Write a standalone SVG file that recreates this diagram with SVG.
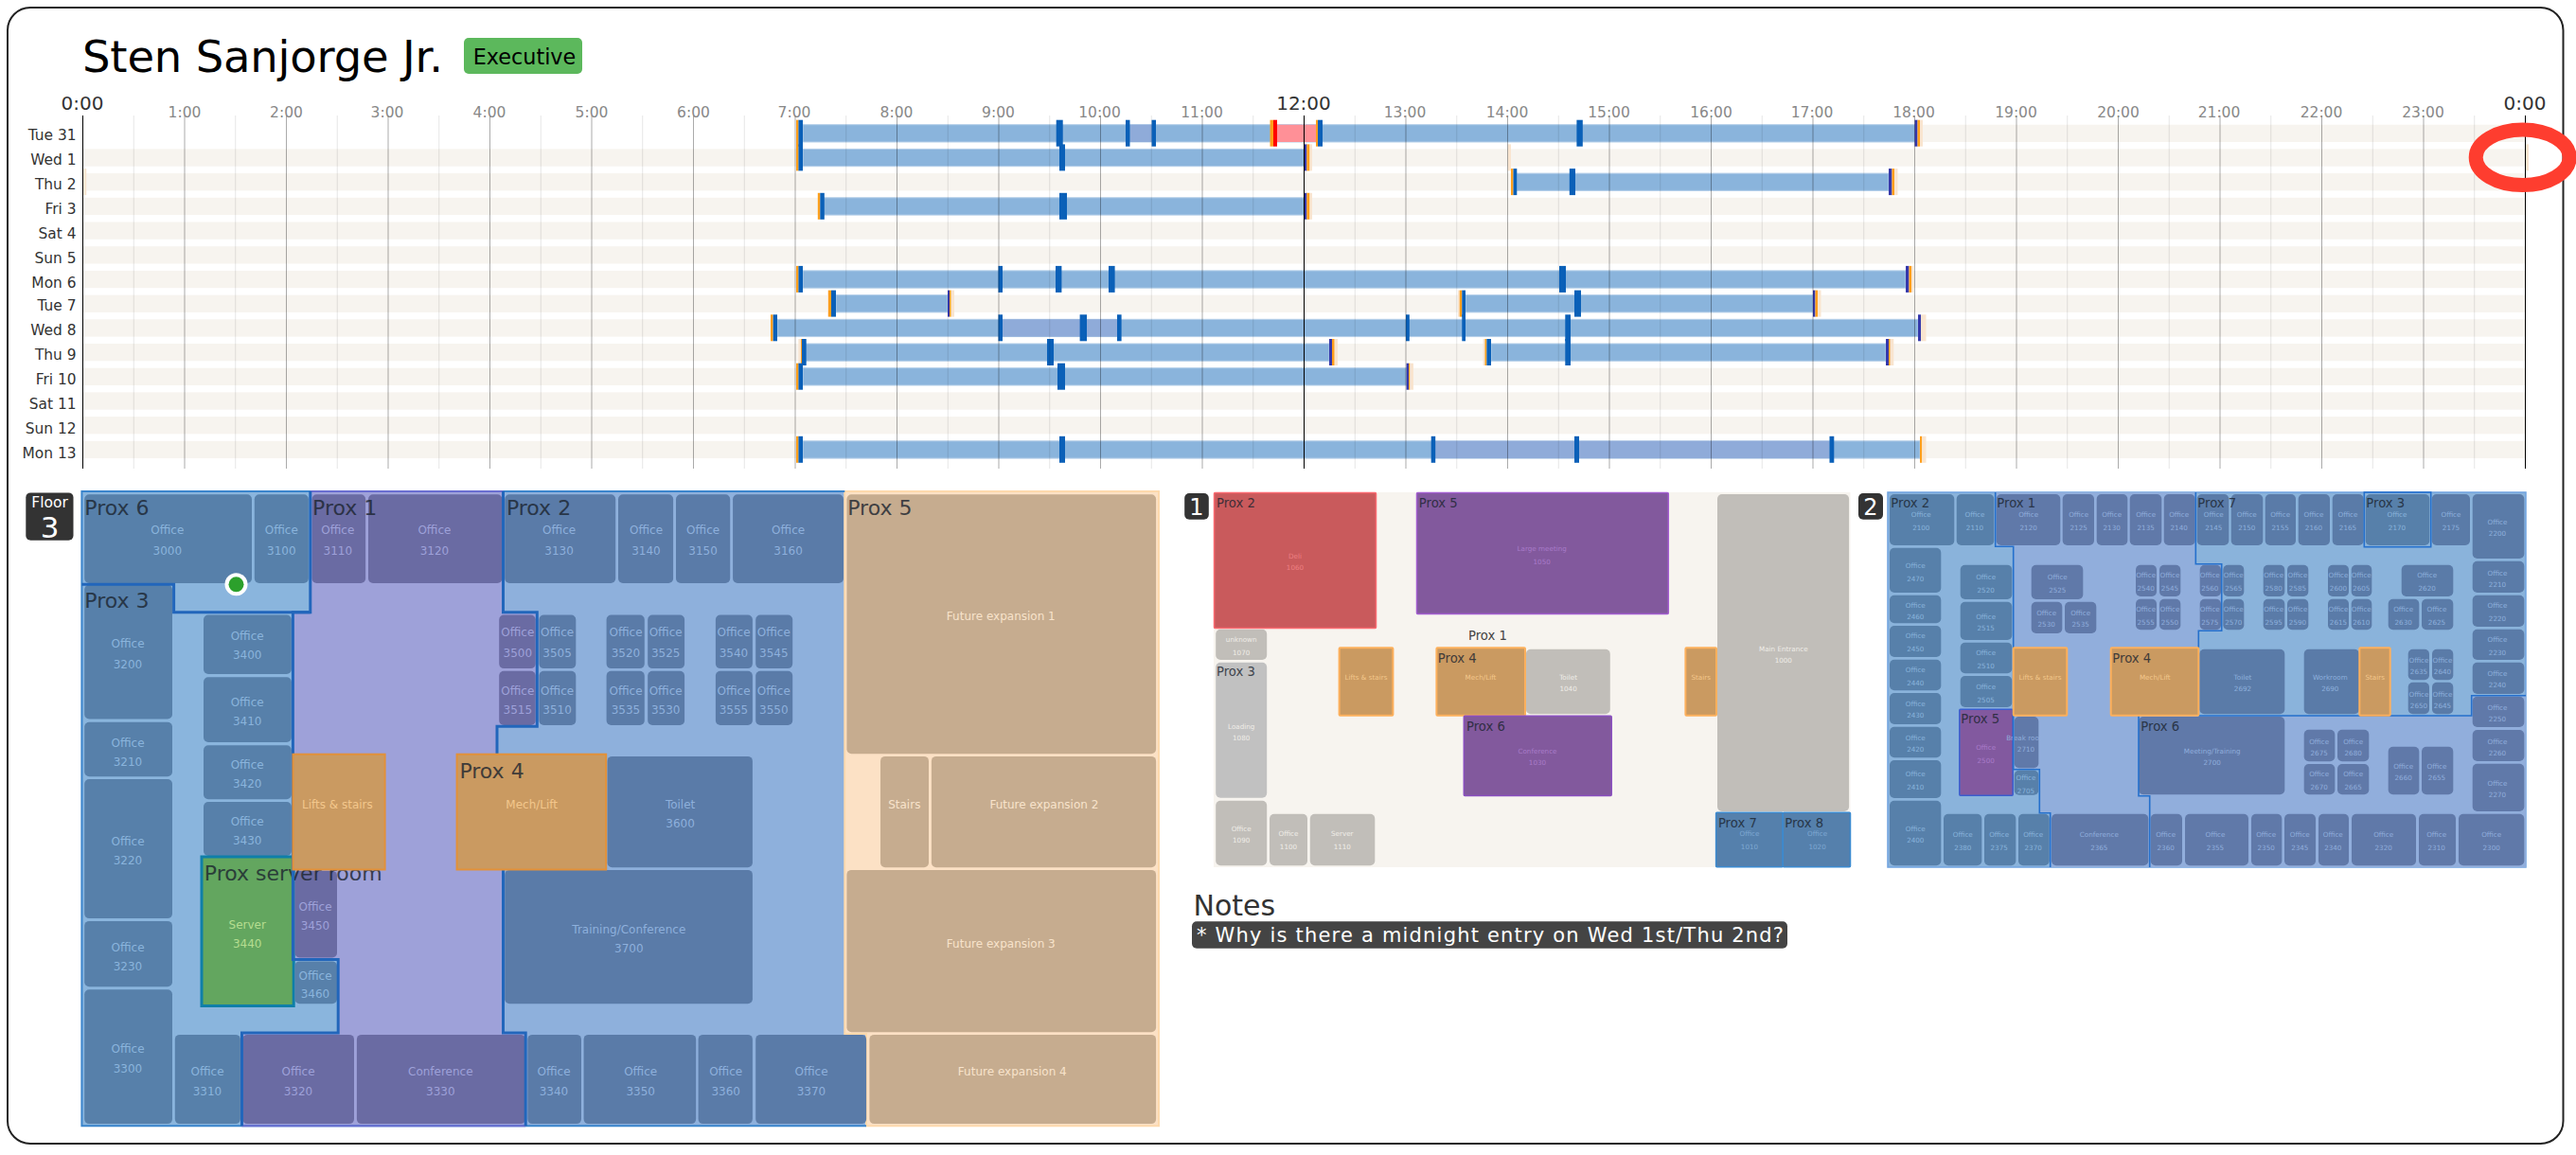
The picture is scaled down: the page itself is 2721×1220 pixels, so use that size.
<svg xmlns="http://www.w3.org/2000/svg" width="2721" height="1220" viewBox="0 0 2721 1220">
<style>
text{font-family:"DejaVu Sans","Liberation Sans",sans-serif}
.s{fill:#f7f4ef;height:18.3px}
.bar{fill:#8ab4dc;height:18.3px;stroke:#b4cfe9;stroke-width:1}
.bp{fill:#8fabd9;height:18.3px}
.br{fill:#ff9097;height:18.3px}
.b,.d,.o,.p,.r{y:-5px;height:28px}
.b{fill:#0a60b8}.d{fill:#3538ab}.o{fill:#ff9f1c}.p{fill:#f9e5d0}.r{fill:#f00}
.day{font-size:15.4px;fill:#333;text-anchor:end}
.hr{font-size:15.5px;fill:#888;text-anchor:middle}
.big{font-size:20px;fill:#333;text-anchor:middle}
.room rect,.badge{rx:5px}
.room text{text-anchor:middle}
.f3 text{font-size:12px}
.f1 text,.f2 text{font-size:7.2px}
.rb rect{fill:#5780aa}.rb text{fill:#8ab4dc}
.rp rect{fill:#6a6ba3}.rp text{fill:#9ea1d9}
.r2 rect{fill:#5a7ba8}.r2 text{fill:#8eb0dc}
.rt rect{fill:#c6ac8f}.rt text{fill:#f8e3cb}
.rg rect{fill:#c1beb9}.rg text{fill:#f0ede8}
.rq rect{fill:#6079a9}.rq text{fill:#91aedc}
.or rect{fill:#ca9a61;stroke:#e2913a;stroke-width:2;rx:0}.or text{fill:#f3c78c}
.f1 .or rect,.f2 .or rect{stroke:#fdb05c;rx:1px}
.sv rect{fill:#63a65f;stroke:#0f7fa8;stroke-width:3;rx:0}.sv text{fill:#b5dd90}
.room rect[stroke]{rx:1px}
text.px{fill:#1c2530;opacity:.8}
.f3 text.f3lab{font-size:22px}
.f1 text.smlab,.f2 text.smlab{font-size:13.2px}
.edge{fill:none;stroke:#2266bb;stroke-width:3}
.edge2{fill:none;stroke:#2570cc;stroke-width:1.6}
text.bn{fill:#fff;text-anchor:middle}
.f3 text.bn1{font-size:15.5px}
.f3 text.bn2{font-size:31px}
.f1 text.bn3,.f2 text.bn3{font-size:24px}
</style>

<rect id="frame" x="8" y="8" width="2699.5" height="1200" rx="24" fill="#fff" stroke="#222" stroke-width="2"/>

<g id="title">
<text x="87" y="75.5" font-size="46.5" fill="#000" textLength="381">Sten Sanjorge Jr.</text>
<rect class="badge" x="490" y="40" width="125" height="38" fill="#5cb85c"/>
<text x="554" y="68" font-size="22.3" text-anchor="middle" fill="#000">Executive</text>
</g>

<g id="days">
<g id="day-tue31" transform="translate(0,131.7)"><rect class="s" x="841" width="1826.5"/>
<rect class="bar" x="848" width="1175"/><rect class="bp" x="1193.5" width="23"/><rect class="br" x="1345" width="45"/>
<rect class="o" x="841" width="2.5"/><rect class="b" x="843.4" width="4.6"/><rect class="b" x="1115.7" width="7"/><rect class="b" x="1189" width="4.5"/><rect class="b" x="1216.5" width="4.5"/><rect class="o" x="1341.5" width="3.5"/><rect class="r" x="1345" width="4"/><rect class="o" x="1390" width="2"/><rect class="b" x="1392" width="5"/><rect class="b" x="1665.4" width="6.4"/><rect class="p" x="2028" width="3"/><rect class="d" x="2022.5" width="3"/><rect class="o" x="2025.5" width="2.5"/>
<text class="day" x="80.5" y="16.3">Tue 31</text></g>

<g id="day-wed1" transform="translate(0,157.4)"><rect class="s" x="87.5" width="2580"/>
<rect class="bar" x="848" width="530"/>
<rect class="o" x="841" width="2.5"/><rect class="b" x="843.4" width="4.6"/><rect class="b" x="1119" width="6"/><rect class="d" x="1377.8" width="2.6"/><rect class="o" x="1380.4" width="3.1"/><rect class="p" x="1383.5" width="2.5"/><rect class="p" x="1592.7" width="3.3"/><rect class="p" x="2667.7" width="3.3"/>
<text class="day" x="80.5" y="16.9">Wed 1</text></g>

<g id="day-thu2" transform="translate(0,183.1)"><rect class="s" x="87.5" width="2580"/>
<rect class="bar" x="1602" width="393"/>
<rect class="p" x="88.4" width="2.9"/><rect class="o" x="1596" width="2.5"/><rect class="b" x="1598.5" width="3.8"/><rect class="b" x="1657.8" width="6.2"/><rect class="d" x="1995" width="3.5"/><rect class="o" x="1998.5" width="2.5"/><rect class="p" x="2001" width="3.5"/>
<text class="day" x="80.5" y="16.9">Thu 2</text></g>

<g id="day-fri3" transform="translate(0,208.8)"><rect class="s" x="87.5" width="2580"/>
<rect class="bar" x="870" width="508"/>
<rect class="o" x="863.8" width="2.5"/><rect class="b" x="866.3" width="4.5"/><rect class="b" x="1119" width="8"/><rect class="d" x="1377.8" width="2.6"/><rect class="o" x="1380.4" width="3.1"/><rect class="p" x="1383.5" width="2.5"/>
<text class="day" x="80.5" y="17.2">Fri 3</text></g>

<g id="day-sat4" transform="translate(0,234.5)"><rect class="s" x="87.5" width="2580"/><text class="day" x="80.5" y="17.5">Sat 4</text></g>
<g id="day-sun5" transform="translate(0,260.2)"><rect class="s" x="87.5" width="2580"/><text class="day" x="80.5" y="17.8">Sun 5</text></g>

<g id="day-mon6" transform="translate(0,285.9)"><rect class="s" x="87.5" width="2580"/>
<rect class="bar" x="848" width="1165"/>
<rect class="o" x="841" width="2.5"/><rect class="b" x="843.4" width="4.6"/><rect class="b" x="1054.5" width="4.5"/><rect class="b" x="1115" width="6.4"/><rect class="b" x="1171" width="6.6"/><rect class="b" x="1647" width="7"/><rect class="d" x="2013" width="3.5"/><rect class="o" x="2016.5" width="2.5"/><rect class="p" x="2019" width="2.3"/>
<text class="day" x="80.5" y="18.1">Mon 6</text></g>

<g id="day-tue7" transform="translate(0,311.6)"><rect class="s" x="87.5" width="2580"/>
<rect class="bar" x="883" width="118"/><rect class="bar" x="1548" width="367"/>
<rect class="p" x="874" width="1"/><rect class="o" x="875" width="3"/><rect class="b" x="878" width="5"/><rect class="d" x="1001" width="2"/><rect class="o" x="1003" width="1.7"/><rect class="p" x="1004.7" width="3.3"/><rect class="p" x="1540" width="1.7"/><rect class="o" x="1541.7" width="2.6"/><rect class="b" x="1544.3" width="3.7"/><rect class="b" x="1663" width="7"/><rect class="d" x="1915" width="2.5"/><rect class="o" x="1917.5" width="2.5"/><rect class="p" x="1920" width="3.5"/>
<text class="day" x="80.5" y="16.4">Tue 7</text></g>

<g id="day-wed8" transform="translate(0,337.3)"><rect class="s" x="87.5" width="2580"/>
<rect class="bar" x="821" width="1205"/><rect class="bp" x="1059" width="121"/>
<rect class="o" x="814" width="2.6"/><rect class="b" x="816.6" width="4.4"/><rect class="b" x="1054.5" width="4.5"/><rect class="b" x="1140.6" width="7.4"/><rect class="b" x="1180" width="4.6"/><rect class="b" x="1485" width="3.8"/><rect class="b" x="1544.3" width="3.7"/><rect class="b" x="1653.3" width="5.7"/><rect class="p" x="2029" width="5.5"/><rect class="d" x="2026" width="3"/>
<text class="day" x="80.5" y="16.7">Wed 8</text></g>

<g id="day-thu9" transform="translate(0,363)"><rect class="s" x="87.5" width="2580"/>
<rect class="bar" x="851" width="553"/><rect class="bar" x="1575" width="417"/>
<rect class="p" x="843.4" width="2.6"/><rect class="o" x="846" width="1.2"/><rect class="b" x="847" width="4.7"/><rect class="b" x="1106" width="7"/><rect class="b" x="1653.3" width="5.7"/><rect class="d" x="1404" width="3"/><rect class="o" x="1407" width="2.7"/><rect class="p" x="1409.7" width="3.3"/><rect class="p" x="1566.6" width="1.9"/><rect class="o" x="1568.5" width="1.9"/><rect class="b" x="1570.4" width="4.6"/><rect class="d" x="1992" width="3"/><rect class="o" x="1995" width="1.7"/><rect class="p" x="1996.7" width="3.6"/>
<text class="day" x="80.5" y="17">Thu 9</text></g>

<g id="day-fri10" transform="translate(0,388.7)"><rect class="s" x="87.5" width="2580"/>
<rect class="bar" x="848" width="637.6"/>
<rect class="o" x="841" width="2.5"/><rect class="b" x="843.4" width="4.6"/><rect class="b" x="1117" width="8"/><rect class="d" x="1485.6" width="2.4"/><rect class="o" x="1488" width="1.4"/><rect class="p" x="1489.4" width="3.6"/>
<text class="day" x="80.5" y="17.3">Fri 10</text></g>

<g id="day-sat11" transform="translate(0,414.4)"><rect class="s" x="87.5" width="2580"/><text class="day" x="80.5" y="17.6">Sat 11</text></g>
<g id="day-sun12" transform="translate(0,440.1)"><rect class="s" x="87.5" width="2580"/><text class="day" x="80.5" y="17.9">Sun 12</text></g>

<g id="day-mon13" transform="translate(0,465.8)"><rect class="s" x="87.5" width="2580"/>
<rect class="bar" x="848" width="1180"/><rect class="bp" x="1516" width="416.5"/>
<rect class="o" x="841" width="2.5"/><rect class="b" x="843.4" width="4.6"/><rect class="b" x="1119" width="6"/><rect class="b" x="1511.7" width="4.5"/><rect class="b" x="1663" width="5"/><rect class="b" x="1932.5" width="4.8"/><rect class="o" x="2028" width="2.3"/><rect class="p" x="2030.3" width="4.2"/>
<text class="day" x="80.5" y="18.2">Mon 13</text></g>
</g>

<g id="grid" fill="none">
<path stroke="#000" stroke-opacity=".1" d="M141.25,122V495M248.75,122V495M356.25,122V495M463.75,122V495M571.25,122V495M678.75,122V495M786.25,122V495M893.75,122V495M1001.25,122V495M1108.75,122V495M1216.25,122V495M1323.75,122V495M1431.25,122V495M1538.75,122V495M1646.25,122V495M1753.75,122V495M1861.25,122V495M1968.75,122V495M2076.25,122V495M2183.75,122V495M2291.25,122V495M2398.75,122V495M2506.25,122V495M2613.75,122V495"/>
<path stroke="#000" stroke-opacity=".33" d="M195,122V495M302.5,122V495M410,122V495M517.5,122V495M625,122V495M732.5,122V495M840,122V495M947.5,122V495M1055,122V495M1162.5,122V495M1270,122V495M1485,122V495M1592.5,122V495M1700,122V495M1807.5,122V495M1915,122V495M2022.5,122V495M2130,122V495M2237.5,122V495M2345,122V495M2452.5,122V495M2560,122V495"/>
<path stroke="#000" d="M87.5,122V495M1377.5,122V495M2667.5,122V495"/>
</g>

<g id="hours">
<text class="big" x="87" y="116">0:00</text><text class="big" x="1377" y="116">12:00</text><text class="big" x="2667" y="116">0:00</text>
<text class="hr" x="195" y="124">1:00</text><text class="hr" x="302.5" y="124">2:00</text><text class="hr" x="409" y="124">3:00</text><text class="hr" x="517" y="124">4:00</text><text class="hr" x="625" y="124">5:00</text><text class="hr" x="732.5" y="124">6:00</text><text class="hr" x="839" y="124">7:00</text><text class="hr" x="947" y="124">8:00</text><text class="hr" x="1054.5" y="124">9:00</text><text class="hr" x="1161.5" y="124">10:00</text><text class="hr" x="1269.5" y="124">11:00</text><text class="hr" x="1484" y="124">13:00</text><text class="hr" x="1592" y="124">14:00</text><text class="hr" x="1699.5" y="124">15:00</text><text class="hr" x="1807.5" y="124">16:00</text><text class="hr" x="1914" y="124">17:00</text><text class="hr" x="2021.5" y="124">18:00</text><text class="hr" x="2129.5" y="124">19:00</text><text class="hr" x="2237.5" y="124">20:00</text><text class="hr" x="2344" y="124">21:00</text><text class="hr" x="2452" y="124">22:00</text><text class="hr" x="2559.5" y="124">23:00</text>
</g>

<ellipse id="midnight-ring" cx="2664.7" cy="166.3" rx="49.5" ry="29.3" fill="none" stroke="#fe3d2f" stroke-width="15"/>

<g id="floor3" class="f3">
<rect class="badge" x="27.3" y="520.4" width="50.2" height="50.3" fill="#333"/>
<text class="bn bn1" x="52.5" y="535.8">Floor</text>
<text class="bn bn2" x="52.5" y="568">3</text>

<g id="f3-zones">
<path id="f3-prox3-6" d="M86.4,519H327.8V646.8H309.4V1013.6H357.2V1091H255.5V1189.3H86.4Z" fill="#8ab5dd"/>
<path id="f3-prox2" d="M531.5,519H892.3V1092H915V1189.3H555.2V1091H531.5V919L525,796V767.2H567.3V646.8H531.5Z" fill="#8eb0dc"/>
<path id="f3-prox1" d="M327.8,519H531.5V646.8H567.3V767.2H525V796L531.5,919V1091H555.2V1189.3H255.5V1091H357.2V1013.6H309.4V646.8H327.8Z" fill="#9ea1d9"/>
<path id="f3-prox5" d="M892.3,519H1224V1189.3H915V1092H892.3Z" fill="#fce1c5" stroke="#fdd9ad" stroke-width="2"/>
<path d="M915,1189.3H86.4V519H892.3" fill="none" stroke="#3b85cc" stroke-width="2"/>
<path d="M327.8,519H531.5M255.5,1189.3H555.2" fill="none" stroke="#6a6ed0" stroke-width="2"/>
</g>

<g class="room rb" id="r3000"><rect x="89.2" y="522.2" width="176.8" height="93.8"/><text x="176.8" y="564.3">Office</text><text x="176.8" y="586">3000</text></g>
<g class="room rb" id="r3100"><rect x="268.8" y="522.2" width="57.1" height="93.8"/><text x="297.3" y="564.3">Office</text><text x="297.3" y="586">3100</text></g>
<g class="room rp" id="r3110"><rect x="329.5" y="522.2" width="56.6" height="93.8"/><text x="356.8" y="564.3">Office</text><text x="356.8" y="586">3110</text></g>
<g class="room rp" id="r3120"><rect x="389" y="522.2" width="141.4" height="93.8"/><text x="458.9" y="564.3">Office</text><text x="458.9" y="586">3120</text></g>
<g class="room r2" id="r3130"><rect x="533.2" y="522.2" width="117" height="93.8"/><text x="590.6" y="564.3">Office</text><text x="590.6" y="586">3130</text></g>
<g class="room r2" id="r3140"><rect x="653" y="522.2" width="58.1" height="93.8"/><text x="682.5" y="564.3">Office</text><text x="682.5" y="586">3140</text></g>
<g class="room r2" id="r3150"><rect x="714" y="522.2" width="57.2" height="93.8"/><text x="742.6" y="564.3">Office</text><text x="742.6" y="586">3150</text></g>
<g class="room r2" id="r3160"><rect x="774.1" y="522.2" width="116.9" height="93.8"/><text x="832.6" y="564.3">Office</text><text x="832.6" y="586">3160</text></g>
<g class="room rb" id="r3200"><rect x="89.2" y="617.8" width="92.8" height="141.7"/><text x="135" y="684.4">Office</text><text x="135" y="706.1">3200</text></g>
<g class="room rb" id="r3210"><rect x="89.2" y="762.7" width="92.8" height="57.5"/><text x="135" y="788.5">Office</text><text x="135" y="808.5">3210</text></g>
<g class="room rb" id="r3220"><rect x="89.2" y="823" width="92.8" height="147.1"/><text x="135" y="892.7">Office</text><text x="135" y="912.6">3220</text></g>
<g class="room rb" id="r3230"><rect x="89.2" y="972.9" width="92.8" height="69.3"/><text x="135" y="1004.6">Office</text><text x="135" y="1024.5">3230</text></g>
<g class="room rb" id="r3300"><rect x="89.2" y="1045.3" width="92.8" height="141.8"/><text x="135" y="1112.4">Office</text><text x="135" y="1132.7">3300</text></g>
<g class="room rb" id="r3310"><rect x="184.8" y="1092.9" width="69.1" height="94.2"/><text x="219" y="1136.4">Office</text><text x="219" y="1156.7">3310</text></g>
<g class="room rp" id="r3320"><rect x="256.3" y="1092.9" width="117.7" height="94.2"/><text x="315" y="1136.4">Office</text><text x="315" y="1156.7">3320</text></g>
<g class="room rp" id="r3330"><rect x="376.9" y="1092.9" width="178" height="94.2"/><text x="465.3" y="1136.4">Conference</text><text x="465.3" y="1156.7">3330</text></g>
<g class="room r2" id="r3340"><rect x="557.3" y="1092.9" width="56.7" height="94.2"/><text x="585" y="1136.4">Office</text><text x="585" y="1156.7">3340</text></g>
<g class="room r2" id="r3350"><rect x="616.6" y="1092.9" width="118.6" height="94.2"/><text x="676.7" y="1136.4">Office</text><text x="676.7" y="1156.7">3350</text></g>
<g class="room r2" id="r3360"><rect x="737.6" y="1092.9" width="57.3" height="94.2"/><text x="766.7" y="1136.4">Office</text><text x="766.7" y="1156.7">3360</text></g>
<g class="room r2" id="r3370"><rect x="798.2" y="1092.9" width="116.9" height="94.2"/><text x="857" y="1136.4">Office</text><text x="857" y="1156.7">3370</text></g>
<g class="room rb" id="r3400"><rect x="215" y="649.5" width="92.8" height="62.5"/><text x="261.2" y="676.2">Office</text><text x="261.2" y="696.1">3400</text></g>
<g class="room rb" id="r3410"><rect x="215" y="715.2" width="92.8" height="68.8"/><text x="261.2" y="746">Office</text><text x="261.2" y="765.9">3410</text></g>
<g class="room rb" id="r3420"><rect x="215" y="787.2" width="92.8" height="57"/><text x="261.2" y="812">Office</text><text x="261.2" y="832">3420</text></g>
<g class="room rb" id="r3430"><rect x="215" y="847" width="92.8" height="57"/><text x="261.2" y="872.3">Office</text><text x="261.2" y="892.2">3430</text></g>
<g class="room sv" id="r3440"><rect x="213" y="905" width="97.2" height="157.5"/><text x="261.2" y="980.6">Server</text><text x="261.2" y="1000.5">3440</text></g>
<g class="room rp" id="r3450"><rect x="311.4" y="919.9" width="44.6" height="91.5"/><text x="333" y="962.4">Office</text><text x="333" y="982.4">3450</text></g>
<g class="room rb" id="r3460"><rect x="311.4" y="1015.4" width="44.6" height="44.9"/><text x="333" y="1034.5">Office</text><text x="333" y="1054.4">3460</text></g>
<text class="px f3lab" x="215.8" y="930.3">Prox server room</text>
<g class="room rp" id="r3500"><rect x="527.2" y="649.5" width="38.5" height="56.6"/><text x="546.8" y="672.1">Office</text><text x="546.8" y="694.3">3500</text></g>
<g class="room r2" id="r3505"><rect x="569.4" y="649.5" width="38.9" height="56.6"/><text x="588.6" y="672.1">Office</text><text x="588.6" y="694.3">3505</text></g>
<g class="room rp" id="r3515"><rect x="527.2" y="708.8" width="38.5" height="57.1"/><text x="546.8" y="734.2">Office</text><text x="546.8" y="754.1">3515</text></g>
<g class="room r2" id="r3510"><rect x="569.4" y="708.8" width="38.9" height="57.1"/><text x="588.6" y="734.2">Office</text><text x="588.6" y="754.1">3510</text></g>
<g class="room r2" id="r3520"><rect x="640.6" y="649.5" width="40.2" height="56.6"/><text x="661" y="672.1">Office</text><text x="661" y="694.3">3520</text></g>
<g class="room r2" id="r3525"><rect x="684.2" y="649.5" width="38.9" height="56.6"/><text x="703.2" y="672.1">Office</text><text x="703.2" y="694.3">3525</text></g>
<g class="room r2" id="r3535"><rect x="640.6" y="708.8" width="40.2" height="57.1"/><text x="661" y="734.2">Office</text><text x="661" y="754.1">3535</text></g>
<g class="room r2" id="r3530"><rect x="684.2" y="708.8" width="38.9" height="57.1"/><text x="703.2" y="734.2">Office</text><text x="703.2" y="754.1">3530</text></g>
<g class="room r2" id="r3540"><rect x="755.9" y="649.5" width="39" height="56.6"/><text x="775" y="672.1">Office</text><text x="775" y="694.3">3540</text></g>
<g class="room r2" id="r3545"><rect x="798.2" y="649.5" width="39" height="56.6"/><text x="817.3" y="672.1">Office</text><text x="817.3" y="694.3">3545</text></g>
<g class="room r2" id="r3555"><rect x="755.9" y="708.8" width="39" height="57.1"/><text x="775" y="734.2">Office</text><text x="775" y="754.1">3555</text></g>
<g class="room r2" id="r3550"><rect x="798.2" y="708.8" width="39" height="57.1"/><text x="817.3" y="734.2">Office</text><text x="817.3" y="754.1">3550</text></g>
<g class="room r2" id="r3600"><rect x="641.5" y="798.9" width="153.4" height="117.3"/><text x="718.6" y="854.2">Toilet</text><text x="718.6" y="874.1">3600</text></g>
<g class="room r2" id="r3700"><rect x="533.2" y="918.9" width="261.7" height="141.4"/><text x="664.3" y="986.4">Training/Conference</text><text x="664.3" y="1006.4">3700</text></g>
<g class="room rt" id="fe1"><rect x="894.4" y="522.2" width="326.7" height="274"/><text x="1057.3" y="654.5">Future expansion 1</text></g>
<g class="room rt" id="stairs3"><rect x="930" y="798.9" width="51" height="117.3"/><text x="955.3" y="854.2">Stairs</text></g>
<g class="room rt" id="fe2"><rect x="983.9" y="798.9" width="237.2" height="117.3"/><text x="1102.9" y="854.2">Future expansion 2</text></g>
<g class="room rt" id="fe3"><rect x="894.4" y="918.9" width="326.7" height="171.3"/><text x="1057.3" y="1000.5">Future expansion 3</text></g>
<g class="room rt" id="fe4"><rect x="918.4" y="1092.9" width="302.7" height="94.2"/><text x="1069.3" y="1136.4">Future expansion 4</text></g>

<g id="f3-edges">
<path class="edge" d="M327.8,519V646.8H183.6V617.3H86.4"/>
<path class="edge" d="M327.8,646.8H309.4V1013.6H357.2V1091H255.5V1189.3"/>
<path class="edge" d="M531.5,519V646.8H567.3V767.2H525V796M531.5,919V1091H555.2V1189.3"/>
</g>
<g class="room or" id="lifts3"><rect x="309.4" y="796.7" width="97.2" height="121.8"/><text x="356.4" y="854.2">Lifts &amp; stairs</text></g>
<g class="room or" id="mech3"><rect x="482.6" y="796.7" width="157.6" height="121.8"/><text x="561.7" y="854.2">Mech/Lift</text></g>
<g id="f3-labels">
<text class="px f3lab" x="89.3" y="544">Prox 6</text>
<text class="px f3lab" x="330" y="544">Prox 1</text>
<text class="px f3lab" x="534.9" y="544">Prox 2</text>
<text class="px f3lab" x="89.3" y="641.8">Prox 3</text>
<text class="px f3lab" x="895.2" y="544">Prox 5</text>
<text class="px f3lab" x="485.4" y="821.6">Prox 4</text>
</g>
<g id="reader"><circle cx="249.5" cy="617.3" r="12" fill="#fff"/><circle cx="249.5" cy="617.3" r="8" fill="#2ca02c"/></g>
</g>

<g id="floor1" class="f1">
<rect class="badge" x="1251.2" y="521" width="25.6" height="27.7" fill="#333"/>
<text class="bn bn3" x="1264" y="544.3">1</text>
<rect id="f1-bg" x="1281.9" y="520" width="672.6" height="396" fill="#f7f4ef"/>
<g class="room" id="r1060"><rect x="1282.5" y="520.5" width="171" height="143" fill="#c95a5c" stroke="#fb6a70" stroke-width="1.5"/><text x="1368" y="590" fill="#ec7f82">Deli</text><text x="1368" y="602" fill="#ec7f82">1060</text></g>
<g class="room" id="r1050"><rect x="1496.5" y="520.5" width="265.8" height="128" fill="#82599d" stroke="#a35ed0" stroke-width="1.5"/><text x="1628.7" y="581.7" fill="#a97bc9">Large meeting</text><text x="1628.7" y="595.7" fill="#a97bc9">1050</text></g>
<g class="room rg" id="r1070"><rect x="1284.2" y="664.7" width="54" height="32.3"/><text x="1311.2" y="677.7">unknown</text><text x="1311.2" y="691.7">1070</text></g>
<g class="room rg" id="r1080"><rect x="1284.2" y="699.7" width="54" height="143" style="fill:#c1c1c1"/><text x="1311.2" y="769.7">Loading</text><text x="1311.2" y="781.7">1080</text></g>
<g class="room rg" id="r1090"><rect x="1284.2" y="845.7" width="54" height="68.6"/><text x="1311.2" y="877.7">Office</text><text x="1311.2" y="889.7">1090</text></g>
<g class="room rg" id="r1100"><rect x="1341" y="859.7" width="40" height="54.6"/><text x="1361" y="883.3">Office</text><text x="1361" y="897.3">1100</text></g>
<g class="room rg" id="r1110"><rect x="1383.8" y="859.7" width="68.5" height="54.6"/><text x="1417.8" y="883.3">Server</text><text x="1417.8" y="897.3">1110</text></g>
<g class="room or" id="lifts1"><rect x="1414.6" y="684.3" width="56.8" height="71.4"/><text x="1443" y="717.7">Lifts &amp; stairs</text></g>
<g class="room rg" id="r1040"><rect x="1611.9" y="685.7" width="88.9" height="68.6"/><text x="1656.6" y="717.7">Toilet</text><text x="1656.6" y="729.7">1040</text></g>
<g class="room or" id="mech1"><rect x="1517.4" y="684.3" width="93.6" height="71.4"/><text x="1564" y="717.7">Mech/Lift</text></g>
<g class="room or" id="stairs1"><rect x="1780.4" y="684.3" width="32.6" height="71.4"/><text x="1796.7" y="717.7">Stairs</text></g>
<g class="room" id="r1030"><rect x="1546.3" y="756.2" width="155.9" height="84.3" fill="#82599d" stroke="#8a4fc0" stroke-width="1.5"/><text x="1624" y="795.7" fill="#a97bc9">Conference</text><text x="1624" y="807.7" fill="#a97bc9">1030</text></g>
<g class="room rg" id="r1000"><rect x="1814" y="522" width="139.1" height="335"/><text x="1883.8" y="687.7">Main Entrance</text><text x="1883.8" y="699.7">1000</text></g>
<g class="room" id="r1010"><rect x="1812.6" y="858.3" width="70.7" height="57.4" fill="#5580ac" stroke="#3b8ad0" stroke-width="1.5"/><text x="1848" y="883.3" fill="#7fa8d2">Office</text><text x="1848" y="897.3" fill="#7fa8d2">1010</text></g>
<g class="room" id="r1020"><rect x="1883.3" y="858.3" width="71.2" height="57.4" fill="#5580ac" stroke="#3b8ad0" stroke-width="1.5"/><text x="1919.6" y="883.3" fill="#7fa8d2">Office</text><text x="1919.6" y="897.3" fill="#7fa8d2">1020</text></g>
<g id="f1-labels">
<text class="px smlab" x="1285" y="536">Prox 2</text>
<text class="px smlab" x="1498.8" y="536">Prox 5</text>
<text x="1551" y="676" class="smlab" fill="#444">Prox 1</text>
<text class="px smlab" x="1285" y="714">Prox 3</text>
<text class="px smlab" x="1518.8" y="700">Prox 4</text>
<text class="px smlab" x="1549" y="772">Prox 6</text>
<text class="px smlab" x="1814.9" y="874">Prox 7</text>
<text class="px smlab" x="1885.2" y="874">Prox 8</text>
</g>
</g>

<g id="notes">
<text x="1260.5" y="967.3" font-size="30" fill="#333">Notes</text>
<rect class="badge" x="1259" y="973.3" width="629" height="28.4" fill="#444"/>
<text x="1264" y="995" font-size="21" fill="#fff" textLength="620">* Why is there a midnight entry on Wed 1st/Thu 2nd?</text>
</g>

<g id="floor2" class="f2">
<rect class="badge" x="1963" y="521" width="26" height="27.7" fill="#333"/>
<text class="bn bn3" x="1976" y="544.3">2</text>
<g id="f2-zones">
<rect x="1994" y="520" width="674" height="396" fill="#8ab3db" stroke="#6fa3e0" stroke-width="1.5"/>
<path id="f2-prox1" d="M2107.7,520H2319.3V595.7H2346.7V666.3H2322.3V756H2259V840.7H2270.7V916H2165.7V858.7H2154.3V812.7H2126.7V577.3H2107.7Z" fill="#91aedc"/>
<path id="f2-prox6" d="M2259,756H2610.7V734.7H2668V916H2270.7V840.7H2259Z" fill="#91aedc"/>
</g>
<g class="room rb" id="r2100"><rect x="1996" y="522" width="68.3" height="54"/><text x="2029.3" y="546">Office</text><text x="2029.3" y="560">2100</text></g>
<g class="room rb" id="r2110"><rect x="2066.7" y="522" width="39.6" height="54"/><text x="2086" y="546">Office</text><text x="2086" y="560">2110</text></g>
<g class="room rq" id="r2120"><rect x="2108.7" y="522" width="67.6" height="54"/><text x="2142.7" y="546">Office</text><text x="2142.7" y="560">2120</text></g>
<g class="room rq" id="r2125"><rect x="2178.7" y="522" width="33.3" height="54"/><text x="2195.7" y="546">Office</text><text x="2195.7" y="560">2125</text></g>
<g class="room rq" id="r2130"><rect x="2214.7" y="522" width="32.6" height="54"/><text x="2230.7" y="546">Office</text><text x="2230.7" y="560">2130</text></g>
<g class="room rq" id="r2135"><rect x="2249.7" y="522" width="33.6" height="54"/><text x="2266.7" y="546">Office</text><text x="2266.7" y="560">2135</text></g>
<g class="room rq" id="r2140"><rect x="2285.7" y="522" width="33" height="54"/><text x="2301.7" y="546">Office</text><text x="2301.7" y="560">2140</text></g>
<g class="room r2" id="r2145"><rect x="2320.7" y="522" width="33.6" height="54"/><text x="2338.3" y="546">Office</text><text x="2338.3" y="560">2145</text></g>
<g class="room r2" id="r2150"><rect x="2356.7" y="522" width="33.6" height="54"/><text x="2373.3" y="546">Office</text><text x="2373.3" y="560">2150</text></g>
<g class="room r2" id="r2155"><rect x="2392.7" y="522" width="32.3" height="54"/><text x="2408.7" y="546">Office</text><text x="2408.7" y="560">2155</text></g>
<g class="room r2" id="r2160"><rect x="2427.7" y="522" width="33.3" height="54"/><text x="2444" y="546">Office</text><text x="2444" y="560">2160</text></g>
<g class="room r2" id="r2165"><rect x="2463.7" y="522" width="33" height="54"/><text x="2480" y="546">Office</text><text x="2480" y="560">2165</text></g>
<g class="room rb" id="r2170"><rect x="2498.7" y="522" width="67.6" height="54"/><text x="2532" y="546">Office</text><text x="2532" y="560">2170</text></g>
<g class="room r2" id="r2175"><rect x="2568.7" y="522" width="40.3" height="54"/><text x="2589" y="546">Office</text><text x="2589" y="560">2175</text></g>
<g class="room r2" id="r2200"><rect x="2611.7" y="522" width="54.6" height="68"/><text x="2638" y="554">Office</text><text x="2638" y="566">2200</text></g>
<g class="room r2" id="r2210"><rect x="2611.7" y="592.7" width="54.6" height="33.3"/><text x="2638" y="608">Office</text><text x="2638" y="620">2210</text></g>
<g class="room r2" id="r2220"><rect x="2611.7" y="628.7" width="54.6" height="33.3"/><text x="2638" y="642">Office</text><text x="2638" y="656">2220</text></g>
<g class="room r2" id="r2230"><rect x="2611.7" y="664.7" width="54.6" height="32.3"/><text x="2638" y="678">Office</text><text x="2638" y="692">2230</text></g>
<g class="room r2" id="r2240"><rect x="2611.7" y="699.7" width="54.6" height="33.3"/><text x="2638" y="714">Office</text><text x="2638" y="726">2240</text></g>
<g class="room rq" id="r2250"><rect x="2611.7" y="735.7" width="54.6" height="32.3"/><text x="2638" y="750">Office</text><text x="2638" y="762">2250</text></g>
<g class="room rq" id="r2260"><rect x="2611.7" y="771" width="54.6" height="33"/><text x="2638" y="786">Office</text><text x="2638" y="798">2260</text></g>
<g class="room rq" id="r2270"><rect x="2611.7" y="806.7" width="54.6" height="50.3"/><text x="2638" y="830">Office</text><text x="2638" y="842">2270</text></g>
<g class="room rq" id="r2300"><rect x="2597" y="859.7" width="69.3" height="54.6"/><text x="2631.7" y="884">Office</text><text x="2631.7" y="898">2300</text></g>
<g class="room rq" id="r2310"><rect x="2555" y="859.7" width="39" height="54.6"/><text x="2573.7" y="884">Office</text><text x="2573.7" y="898">2310</text></g>
<g class="room rq" id="r2320"><rect x="2484" y="859.7" width="68" height="54.6"/><text x="2517.7" y="884">Office</text><text x="2517.7" y="898">2320</text></g>
<g class="room rq" id="r2340"><rect x="2449" y="859.7" width="32" height="54.6"/><text x="2464.3" y="884">Office</text><text x="2464.3" y="898">2340</text></g>
<g class="room rq" id="r2345"><rect x="2413" y="859.7" width="33" height="54.6"/><text x="2429.3" y="884">Office</text><text x="2429.3" y="898">2345</text></g>
<g class="room rq" id="r2350"><rect x="2378" y="859.7" width="32.3" height="54.6"/><text x="2393.7" y="884">Office</text><text x="2393.7" y="898">2350</text></g>
<g class="room rq" id="r2355"><rect x="2308" y="859.7" width="67" height="54.6"/><text x="2340" y="884">Office</text><text x="2340" y="898">2355</text></g>
<g class="room rq" id="r2360"><rect x="2271.7" y="859.7" width="33.3" height="54.6"/><text x="2287.7" y="884">Office</text><text x="2287.7" y="898">2360</text></g>
<g class="room rq" id="r2365"><rect x="2167" y="859.7" width="102.3" height="54.6"/><text x="2217.3" y="884">Conference</text><text x="2217.3" y="898">2365</text></g>
<g class="room rb" id="r2370"><rect x="2132" y="859.7" width="32.7" height="54.6"/><text x="2147.7" y="884">Office</text><text x="2147.7" y="898">2370</text></g>
<g class="room rb" id="r2375"><rect x="2096" y="859.7" width="33.3" height="54.6"/><text x="2111.7" y="884">Office</text><text x="2111.7" y="898">2375</text></g>
<g class="room rb" id="r2380"><rect x="2053" y="859.7" width="40.3" height="54.6"/><text x="2073.3" y="884">Office</text><text x="2073.3" y="898">2380</text></g>
<g class="room rb" id="r2400"><rect x="1996" y="845.7" width="54.3" height="68.6"/><text x="2023.3" y="878">Office</text><text x="2023.3" y="890">2400</text></g>
<g class="room rb" id="r2470"><rect x="1996" y="578.7" width="54.3" height="47.3"/><text x="2023.3" y="600">Office</text><text x="2023.3" y="614">2470</text></g>
<g class="room rb" id="r2460"><rect x="1996" y="628.7" width="54.3" height="29.6"/><text x="2023.3" y="642">Office</text><text x="2023.3" y="654">2460</text></g>
<g class="room rb" id="r2450"><rect x="1996" y="661" width="54.3" height="33"/><text x="2023.3" y="674">Office</text><text x="2023.3" y="688">2450</text></g>
<g class="room rb" id="r2440"><rect x="1996" y="696.7" width="54.3" height="32.6"/><text x="2023.3" y="710">Office</text><text x="2023.3" y="724">2440</text></g>
<g class="room rb" id="r2430"><rect x="1996" y="732" width="54.3" height="33"/><text x="2023.3" y="746">Office</text><text x="2023.3" y="758">2430</text></g>
<g class="room rb" id="r2420"><rect x="1996" y="767.7" width="54.3" height="32.6"/><text x="2023.3" y="782">Office</text><text x="2023.3" y="794">2420</text></g>
<g class="room rb" id="r2410"><rect x="1996" y="803" width="54.3" height="40"/><text x="2023.3" y="820">Office</text><text x="2023.3" y="834">2410</text></g>
<g class="room rb" id="r2520"><rect x="2070.7" y="596.7" width="54.6" height="36.3"/><text x="2097.7" y="612">Office</text><text x="2097.7" y="626">2520</text></g>
<g class="room rb" id="r2515"><rect x="2070.7" y="635.7" width="54.6" height="40.3"/><text x="2097.7" y="654">Office</text><text x="2097.7" y="666">2515</text></g>
<g class="room rb" id="r2510"><rect x="2070.7" y="678.7" width="54.6" height="32.6"/><text x="2097.7" y="692">Office</text><text x="2097.7" y="706">2510</text></g>
<g class="room rb" id="r2505"><rect x="2070.7" y="714" width="54.6" height="33"/><text x="2097.7" y="728">Office</text><text x="2097.7" y="742">2505</text></g>
<g class="room" id="r2500"><rect x="2069.8" y="749.2" width="56.4" height="91" fill="#82599f" stroke="#3a5fd0" stroke-width="1.5"/><text x="2097.7" y="792" fill="#a97bc9">Office</text><text x="2097.7" y="806" fill="#a97bc9">2500</text></g>
<g class="room rq" id="r2525"><rect x="2145.7" y="596.7" width="54.6" height="36.3"/><text x="2173.3" y="612">Office</text><text x="2173.3" y="626">2525</text></g>
<g class="room rq" id="r2530"><rect x="2145.7" y="635.7" width="32.6" height="33.3"/><text x="2161.7" y="650">Office</text><text x="2161.7" y="662">2530</text></g>
<g class="room rq" id="r2535"><rect x="2181" y="635.7" width="33.3" height="33.3"/><text x="2197.7" y="650">Office</text><text x="2197.7" y="662">2535</text></g>
<g class="room rq" id="r2540"><rect x="2256" y="596.7" width="22" height="33.3"/><text x="2266.7" y="610">Office</text><text x="2266.7" y="624">2540</text></g>
<g class="room rq" id="r2545"><rect x="2281" y="596.7" width="22.3" height="33.3"/><text x="2292" y="610">Office</text><text x="2292" y="624">2545</text></g>
<g class="room rq" id="r2555"><rect x="2256" y="632.7" width="22" height="32.6"/><text x="2266.7" y="646">Office</text><text x="2266.7" y="660">2555</text></g>
<g class="room rq" id="r2550"><rect x="2281" y="632.7" width="22.3" height="32.6"/><text x="2292" y="646">Office</text><text x="2292" y="660">2550</text></g>
<g class="room rq" id="r2560"><rect x="2323.7" y="596.7" width="22.3" height="33.3"/><text x="2334.3" y="610">Office</text><text x="2334.3" y="624">2560</text></g>
<g class="room rq" id="r2575"><rect x="2323.7" y="632.7" width="22.3" height="32.6"/><text x="2334.3" y="646">Office</text><text x="2334.3" y="660">2575</text></g>
<g class="room r2" id="r2565"><rect x="2348.3" y="596.7" width="22" height="33.3"/><text x="2359.3" y="610">Office</text><text x="2359.3" y="624">2565</text></g>
<g class="room r2" id="r2570"><rect x="2348.3" y="632.7" width="22" height="32.6"/><text x="2359.3" y="646">Office</text><text x="2359.3" y="660">2570</text></g>
<g class="room r2" id="r2580"><rect x="2390.7" y="596.7" width="22.6" height="33.3"/><text x="2401.7" y="610">Office</text><text x="2401.7" y="624">2580</text></g>
<g class="room r2" id="r2585"><rect x="2416" y="596.7" width="22.3" height="33.3"/><text x="2427" y="610">Office</text><text x="2427" y="624">2585</text></g>
<g class="room r2" id="r2595"><rect x="2390.7" y="632.7" width="22.6" height="32.6"/><text x="2401.7" y="646">Office</text><text x="2401.7" y="660">2595</text></g>
<g class="room r2" id="r2590"><rect x="2416" y="632.7" width="22.3" height="32.6"/><text x="2427" y="646">Office</text><text x="2427" y="660">2590</text></g>
<g class="room r2" id="r2600"><rect x="2459" y="596.7" width="22" height="33.3"/><text x="2470" y="610">Office</text><text x="2470" y="624">2600</text></g>
<g class="room r2" id="r2605"><rect x="2483.7" y="596.7" width="21.6" height="33.3"/><text x="2494.3" y="610">Office</text><text x="2494.3" y="624">2605</text></g>
<g class="room r2" id="r2615"><rect x="2459" y="632.7" width="22" height="32.6"/><text x="2470" y="646">Office</text><text x="2470" y="660">2615</text></g>
<g class="room r2" id="r2610"><rect x="2483.7" y="632.7" width="21.6" height="32.6"/><text x="2494.3" y="646">Office</text><text x="2494.3" y="660">2610</text></g>
<g class="room r2" id="r2620"><rect x="2536.7" y="596.7" width="54.6" height="33.3"/><text x="2563.7" y="610">Office</text><text x="2563.7" y="624">2620</text></g>
<g class="room r2" id="r2630"><rect x="2522.7" y="632.7" width="32.6" height="32.6"/><text x="2538.7" y="646">Office</text><text x="2538.7" y="660">2630</text></g>
<g class="room r2" id="r2625"><rect x="2558" y="632.7" width="33.3" height="32.6"/><text x="2574" y="646">Office</text><text x="2574" y="660">2625</text></g>
<g class="room r2" id="r2692"><rect x="2323.3" y="685.7" width="90" height="68.6"/><text x="2369" y="718">Toilet</text><text x="2369" y="730">2692</text></g>
<g class="room r2" id="r2690"><rect x="2433.7" y="685.7" width="58.3" height="68.6"/><text x="2461.3" y="718">Workroom</text><text x="2461.3" y="730">2690</text></g>
<g class="room r2" id="r2635"><rect x="2543.7" y="685.7" width="22.3" height="32.6"/><text x="2555" y="700">Office</text><text x="2555" y="712">2635</text></g>
<g class="room r2" id="r2640"><rect x="2569" y="685.7" width="22.3" height="32.6"/><text x="2580" y="700">Office</text><text x="2580" y="712">2640</text></g>
<g class="room r2" id="r2650"><rect x="2543.7" y="720.7" width="22.3" height="33.6"/><text x="2555" y="736">Office</text><text x="2555" y="748">2650</text></g>
<g class="room r2" id="r2645"><rect x="2569" y="720.7" width="22.3" height="33.6"/><text x="2580" y="736">Office</text><text x="2580" y="748">2645</text></g>
<g class="room rq" id="r2710"><rect x="2127.7" y="757" width="25.6" height="54.3"/><text x="2140" y="782">Break room</text><text x="2140" y="794">2710</text></g>
<g class="room rb" id="r2705"><rect x="2127.7" y="813.7" width="25.6" height="26"/><text x="2140" y="824">Office</text><text x="2140" y="838">2705</text></g>
<g class="room rq" id="r2700"><rect x="2259" y="757" width="154.3" height="82.3"/><text x="2336.7" y="796">Meeting/Training</text><text x="2336.7" y="808">2700</text></g>
<g class="room rq" id="r2675"><rect x="2433.7" y="770.7" width="32.6" height="33.6"/><text x="2449.7" y="786">Office</text><text x="2449.7" y="798">2675</text></g>
<g class="room rq" id="r2680"><rect x="2469" y="770.7" width="33.3" height="33.6"/><text x="2485.7" y="786">Office</text><text x="2485.7" y="798">2680</text></g>
<g class="room rq" id="r2670"><rect x="2433.7" y="807" width="32.6" height="32.3"/><text x="2449.7" y="820">Office</text><text x="2449.7" y="834">2670</text></g>
<g class="room rq" id="r2665"><rect x="2469" y="807" width="33.3" height="32.3"/><text x="2485.7" y="820">Office</text><text x="2485.7" y="834">2665</text></g>
<g class="room rq" id="r2660"><rect x="2522.7" y="788.7" width="32.6" height="50.6"/><text x="2538.7" y="812">Office</text><text x="2538.7" y="824">2660</text></g>
<g class="room rq" id="r2655"><rect x="2558" y="788.7" width="33.3" height="50.6"/><text x="2574" y="812">Office</text><text x="2574" y="824">2655</text></g>
<g id="f2-edges">
<path class="edge2" d="M2107.7,520V577.3H2126.7V812.7H2154.3V858.7H2165.7V916"/>
<path class="edge2" d="M2319.3,520V595.7H2346.7V666.3H2322.3V684M2259,756V840.7H2270.7V916"/>
<path class="edge2" d="M2322.3,756H2610.7V734.7H2668"/>
<rect class="edge2" x="2497.3" y="520" width="70.4" height="57.7"/>
</g>
<g class="room or" id="lifts2"><rect x="2126.7" y="684.3" width="56.6" height="71.4"/><text x="2155" y="718">Lifts &amp; stairs</text></g>
<g class="room or" id="mech2"><rect x="2229.7" y="684.3" width="92.6" height="71.4"/><text x="2276.3" y="718">Mech/Lift</text></g>
<g class="room or" id="stairs2"><rect x="2492.3" y="684.3" width="32.4" height="71.4"/><text x="2508.7" y="718">Stairs</text></g>
<g id="f2-labels">
<text class="px smlab" x="1997.3" y="536">Prox 2</text>
<text class="px smlab" x="2109.3" y="536">Prox 1</text>
<text class="px smlab" x="2321.3" y="536">Prox 7</text>
<text class="px smlab" x="2499.3" y="536">Prox 3</text>
<text class="px smlab" x="2231.3" y="700">Prox 4</text>
<text class="px smlab" x="2071.3" y="764">Prox 5</text>
<text class="px smlab" x="2261.3" y="772">Prox 6</text>
</g>
</g>
</svg>
